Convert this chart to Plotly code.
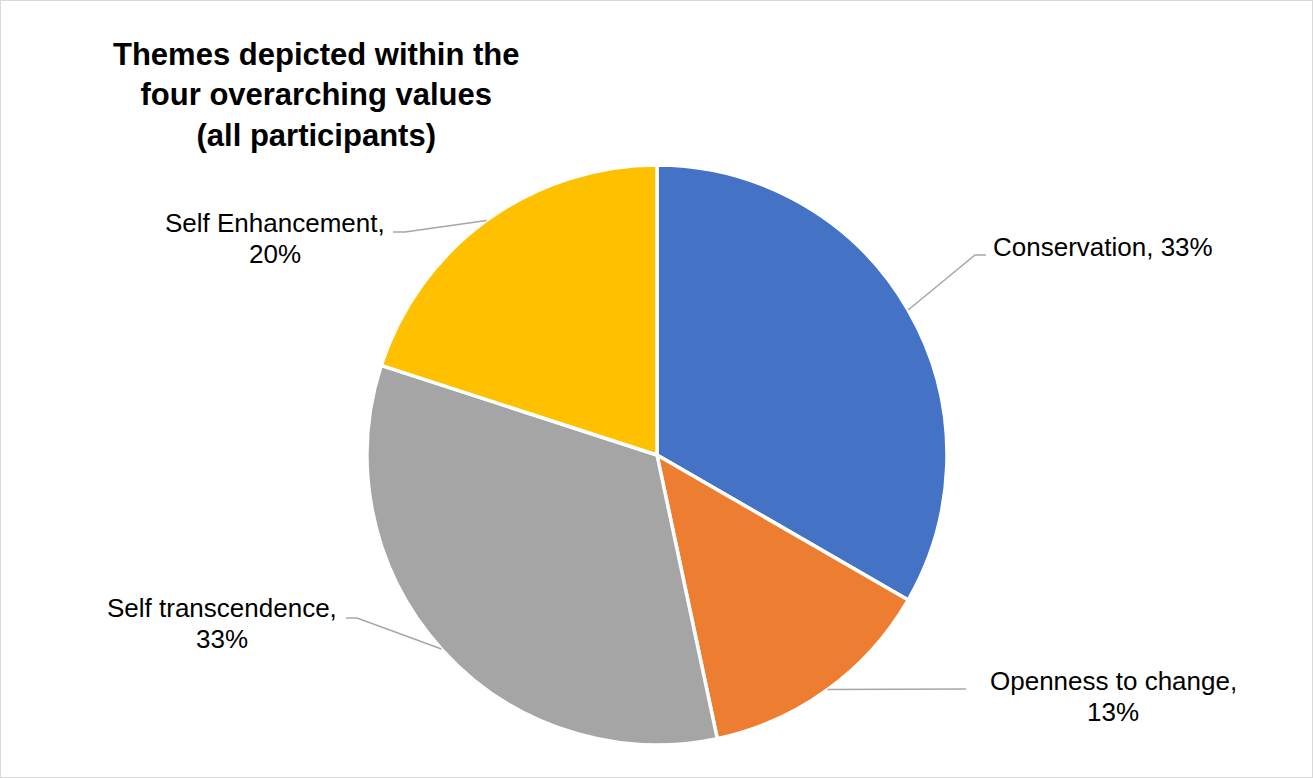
import math
import plotly.graph_objects as go

# ---- data ----
categories = ["Conservation", "Openness to change", "Self transcendence", "Self Enhancement"]
counts = [5, 2, 5, 3]
colors = ["#4472C4", "#ED7D31", "#A5A5A5", "#FFC000"]
title_lines = ["Themes depicted within the", "four overarching values", "(all participants)"]

# ---- layout constants (pixels) ----
W, H = 1313, 778
CX, CY, R = 657, 455, 290
# label text center x and first-line center y (style)
label_pos = [(1103, 247), (1113, 681), (222, 608), (275, 223)]
label_break = [False, True, True, True]
LINE_GAP = 31
# leader line elbow and end (style)
leader_elbow = [(975, 255), (966, 689), (357, 618), (405, 232)]
leader_end = [(986, 255), (966, 689), (346, 618), (393, 232)]
FONT = "Liberation Sans, Arial"

def px(x):
    return x / W

def py(y):
    return 1 - y / H

fig = go.Figure(go.Pie(
    labels=categories,
    values=counts,
    sort=False,
    direction="clockwise",
    rotation=0,
    marker=dict(colors=colors, line=dict(color="white", width=3.5)),
    textinfo="none",
    hoverinfo="label+percent",
    domain=dict(x=[px(CX - R), px(CX + R)], y=[py(CY + R), py(CY - R)]),
    showlegend=False,
))

total = sum(counts)
cum = 0
annotations = []
shapes = []
for i, (cat, v) in enumerate(zip(categories, counts)):
    mid = (cum + v / 2) / total * 2 * math.pi
    cum += v
    pct = round(v / total * 100)
    sx = CX + R * math.sin(mid)
    sy = CY - R * math.cos(mid)
    ex, ey = leader_elbow[i]
    fx, fy = leader_end[i]
    shapes.append(dict(type="path", xref="paper", yref="paper",
                       path=f"M {px(sx)} {py(sy)} L {px(ex)} {py(ey)} L {px(fx)} {py(fy)}",
                       line=dict(color="#A6A6A6", width=1.5)))
    lines = [f"{cat},", f"{pct}%"] if label_break[i] else [f"{cat}, {pct}%"]
    lx, ly = label_pos[i]
    for k, t in enumerate(lines):
        annotations.append(dict(text=t, x=px(lx), y=py(ly + k * LINE_GAP),
                                xref="paper", yref="paper", showarrow=False,
                                xanchor="center", yanchor="middle", align="center",
                                font=dict(family=FONT, size=26, color="#000000")))

annotations.append(dict(text="<b>" + "<br>".join(title_lines) + "</b>",
                        x=px(316), y=py(95), xref="paper", yref="paper",
                        showarrow=False, xanchor="center", yanchor="middle", align="center",
                        font=dict(family=FONT, size=31, color="#000000")))

shapes.append(dict(type="rect", xref="paper", yref="paper", x0=0, y0=0, x1=1, y1=1,
                   line=dict(color="#D9D9D9", width=2)))

fig.update_layout(
    width=W, height=H,
    margin=dict(l=0, r=0, t=0, b=0),
    paper_bgcolor="white", plot_bgcolor="white",
    annotations=annotations, shapes=shapes,
)

fig.write_html("out.html")
